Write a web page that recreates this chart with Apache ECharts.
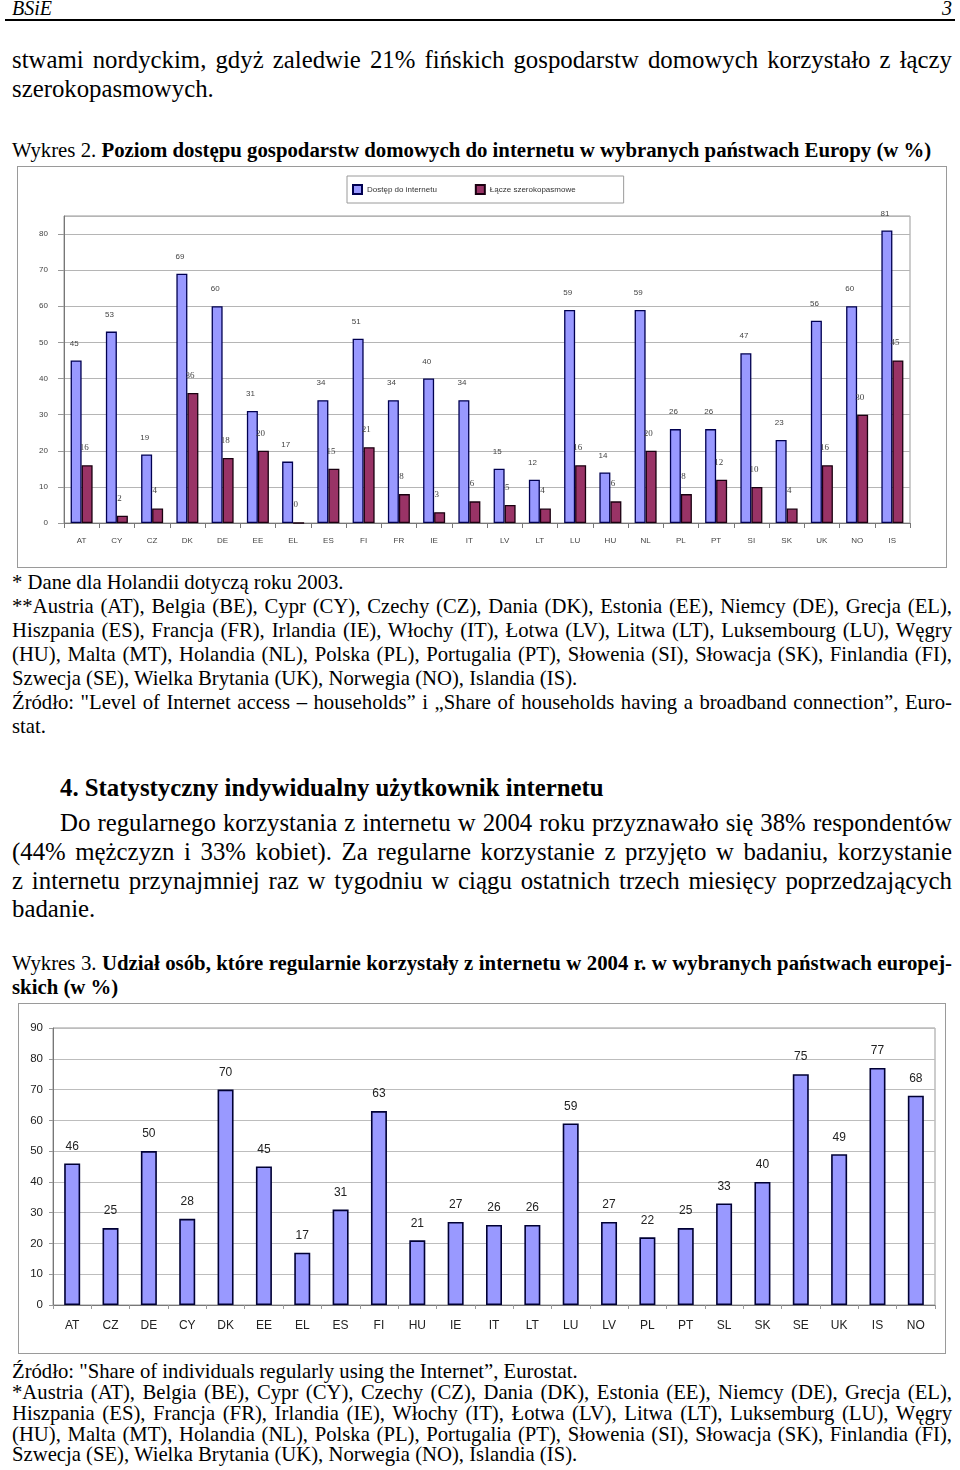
<!DOCTYPE html>
<html><head><meta charset="utf-8">
<script src="https://cdn.jsdelivr.net/npm/echarts@6/dist/echarts.min.js"></script>
<style>
html,body{margin:0;padding:0;background:#fff;}
body{width:960px;height:1470px;position:relative;overflow:hidden;font-family:"Liberation Serif","DejaVu Serif",serif;color:#000;}
.t{position:absolute;white-space:nowrap;}
.body{font-size:24.8px;line-height:28px;}
.fn{font-size:20.7px;line-height:24px;}
.cap{font-size:20.8px;line-height:24px;}
.box{position:absolute;border:1.5px solid #9a9a9a;box-sizing:border-box;}
</style></head>
<body>
<div class="t" style="left:12px;top:-3px;font-size:20px;font-style:italic;line-height:22px;">BSiE</div>
<div class="t" style="left:942px;top:-3px;font-size:20px;font-style:italic;line-height:22px;">3</div>
<div style="position:absolute;left:5px;top:19px;width:950px;height:1.5px;background:#000;"></div>

<div class="t body j" data-w="940" style="left:12px;top:46px;">stwami nordyckim, gdyż zaledwie 21% fińskich gospodarstw domowych korzystało z łączy</div>
<div class="t body" style="left:12px;top:75px;">szerokopasmowych.</div>

<div class="t cap" style="left:12px;top:138px;">Wykres 2. <b>Poziom dostępu gospodarstw domowych do internetu w wybranych państwach Europy (w %)</b></div>

<div class="box" style="left:17px;top:166px;width:930px;height:402px;"></div>
<div id="c1" style="position:absolute;left:17px;top:166px;width:930px;height:402px;"></div>

<div class="t fn" style="left:12px;top:570px;">* Dane dla Holandii dotyczą roku 2003.</div>
<div class="t fn j" data-w="940" style="left:12px;top:594px;">**Austria (AT), Belgia (BE), Cypr (CY), Czechy (CZ), Dania (DK), Estonia (EE), Niemcy (DE), Grecja (EL),</div>
<div class="t fn j" data-w="940" style="left:12px;top:618px;">Hiszpania (ES), Francja (FR), Irlandia (IE), Włochy (IT), Łotwa (LV), Litwa (LT), Luksembourg (LU), Węgry</div>
<div class="t fn j" data-w="940" style="left:12px;top:642px;">(HU), Malta (MT), Holandia (NL), Polska (PL), Portugalia (PT), Słowenia (SI), Słowacja (SK), Finlandia (FI),</div>
<div class="t fn" style="left:12px;top:666px;">Szwecja (SE), Wielka Brytania (UK), Norwegia (NO), Islandia (IS).</div>
<div class="t fn j" data-w="940" style="left:12px;top:690px;">Źródło: "Level of Internet access – households” i „Share of households having a broadband connection”, Euro-</div>
<div class="t fn" style="left:12px;top:714px;">stat.</div>

<div class="t body" style="left:60px;top:774px;font-weight:bold;">4. Statystyczny indywidualny użytkownik internetu</div>
<div class="t body j" data-w="892" style="left:60px;top:809px;">Do regularnego korzystania z internetu w 2004 roku przyznawało się 38% respondentów</div>
<div class="t body j" data-w="940" style="left:12px;top:838px;">(44% mężczyzn i 33% kobiet). Za regularne korzystanie z przyjęto w badaniu, korzystanie</div>
<div class="t body j" data-w="940" style="left:12px;top:867px;">z internetu przynajmniej raz w tygodniu w ciągu ostatnich trzech miesięcy poprzedzających</div>
<div class="t body" style="left:12px;top:895px;">badanie.</div>

<div class="t cap j" data-w="940" style="left:12px;top:951px;">Wykres 3. <b>Udział osób, które regularnie korzystały z internetu w 2004 r. w wybranych państwach europej-</b></div>
<div class="t cap" style="left:12px;top:975px;"><b>skich (w %)</b></div>

<div class="box" style="left:18px;top:1003px;width:928px;height:351px;"></div>
<div id="c2" style="position:absolute;left:18px;top:1003px;width:928px;height:351px;"></div>

<div class="t fn" style="left:12px;top:1361px;line-height:21px;">Źródło: "Share of individuals regularly using the Internet”, Eurostat.</div>
<div class="t fn j" data-w="940" style="left:12px;top:1382px;line-height:21px;">*Austria (AT), Belgia (BE), Cypr (CY), Czechy (CZ), Dania (DK), Estonia (EE), Niemcy (DE), Grecja (EL),</div>
<div class="t fn j" data-w="940" style="left:12px;top:1403px;line-height:21px;">Hiszpania (ES), Francja (FR), Irlandia (IE), Włochy (IT), Łotwa (LV), Litwa (LT), Luksemburg (LU), Węgry</div>
<div class="t fn j" data-w="940" style="left:12px;top:1424px;line-height:21px;">(HU), Malta (MT), Holandia (NL), Polska (PL), Portugalia (PT), Słowenia (SI), Słowacja (SK), Finlandia (FI),</div>
<div class="t fn" style="left:12px;top:1444px;line-height:21px;">Szwecja (SE), Wielka Brytania (UK), Norwegia (NO), Islandia (IS).</div>

<script>
// justify single lines by word-spacing
document.querySelectorAll('.j').forEach(function(el){
  var target = parseFloat(el.getAttribute('data-w'));
  var natural = el.getBoundingClientRect().width;
  var spaces = (el.textContent.match(/ /g) || []).length;
  if (spaces > 0) el.style.wordSpacing = ((target - natural) / spaces) + 'px';
});

// ---- Chart 1 data ----
const categories1 = ["AT","CY","CZ","DK","DE","EE","EL","ES","FI","FR","IE","IT","LV","LT","LU","HU","NL","PL","PT","SI","SK","UK","NO","IS"];
const accessValues = [45,53,19,69,60,31,17,34,51,34,40,34,15,12,59,14,59,26,26,47,23,56,60,81];
const broadbandValues = [16,2,4,36,18,20,0,15,21,8,3,6,5,4,16,6,20,8,12,10,4,16,30,45];
const seriesNames1 = ["Dostęp do internetu","Łącze szerokopasmowe"];
// ---- Chart 2 data ----
const categories2 = ["AT","CZ","DE","CY","DK","EE","EL","ES","FI","HU","IE","IT","LT","LU","LV","PL","PT","SL","SK","SE","UK","IS","NO"];
const regularValues = [46,25,50,28,70,45,17,31,63,21,27,26,26,59,27,22,25,33,40,75,49,77,68];

const c1 = echarts.init(document.getElementById('c1'));
c1.setOption({
  animation:false,
  legend:{
    left:330, top:10, orient:'horizontal',
    data:seriesNames1, icon:'rect',
    itemWidth:9, itemHeight:9, itemGap:38,
    borderColor:'#9a9a9a', borderWidth:1,
    padding:[8,48,8,5],
    textStyle:{fontFamily:'Arial, Liberation Sans',fontSize:8,color:'#333'}
  },
  grid:{left:47, top:50, right:37, bottom:45, show:true, borderColor:'#999', borderWidth:1},
  xAxis:{
    type:'category', data:categories1,
    axisLine:{lineStyle:{color:'#777',width:1}},
    axisTick:{show:true,length:5,lineStyle:{color:'#777'}},
    axisLabel:{fontFamily:'Arial, Liberation Sans',fontSize:8,color:'#444',margin:14}
  },
  yAxis:{
    type:'value', min:0, max:85, interval:10,
    axisLine:{show:true,lineStyle:{color:'#777',width:1}},
    axisTick:{show:true,length:6,lineStyle:{color:'#999'}},
    axisLabel:{fontFamily:'Arial, Liberation Sans',fontSize:8,color:'#444',margin:16,showMaxLabel:false},
    splitLine:{lineStyle:{color:'#b5b5b5',width:1}}
  },
  series:[
    {name:seriesNames1[0], type:'bar', data:accessValues, barWidth:11, barGap:'0%',
     itemStyle:{color:'#9999FF',borderColor:'#000050',borderWidth:1.3},
     label:{show:true,position:'top',distance:13,offset:[-2,0],fontFamily:'Arial, Liberation Sans',fontSize:8,color:'#444'}},
    {name:seriesNames1[1], type:'bar', data:broadbandValues, barWidth:11,
     itemStyle:{color:'#993366',borderColor:'#1a0010',borderWidth:1.3},
     label:{show:true,position:'top',distance:13,offset:[-3,0],fontFamily:'Liberation Serif, Times New Roman',fontSize:9,color:'#444'}}
  ]
});

const c2 = echarts.init(document.getElementById('c2'));
c2.setOption({
  animation:false,
  grid:{left:35, top:25, right:11, bottom:49, show:true, borderColor:'#999', borderWidth:1},
  xAxis:{
    type:'category', data:categories2,
    axisLine:{lineStyle:{color:'#777',width:1}},
    axisTick:{show:true,length:4,lineStyle:{color:'#999'}},
    axisLabel:{fontFamily:'Arial, Liberation Sans',fontSize:12,color:'#222',margin:15}
  },
  yAxis:{
    type:'value', min:0, max:90, interval:10,
    axisLine:{show:true,lineStyle:{color:'#777',width:1}},
    axisTick:{show:true,length:4,lineStyle:{color:'#999'}},
    axisLabel:{fontFamily:'Arial, Liberation Sans',fontSize:11.5,color:'#222',margin:10},
    splitLine:{lineStyle:{color:'#bdbdbd',width:1}}
  },
  series:[
    {type:'bar', data:regularValues, barWidth:16,
     itemStyle:{color:'#9999FF',borderColor:'#000033',borderWidth:1.6},
     label:{show:true,position:'top',distance:11,fontFamily:'Arial, Liberation Sans',fontSize:12,color:'#222'}}
  ]
});
</script>
</body></html>
